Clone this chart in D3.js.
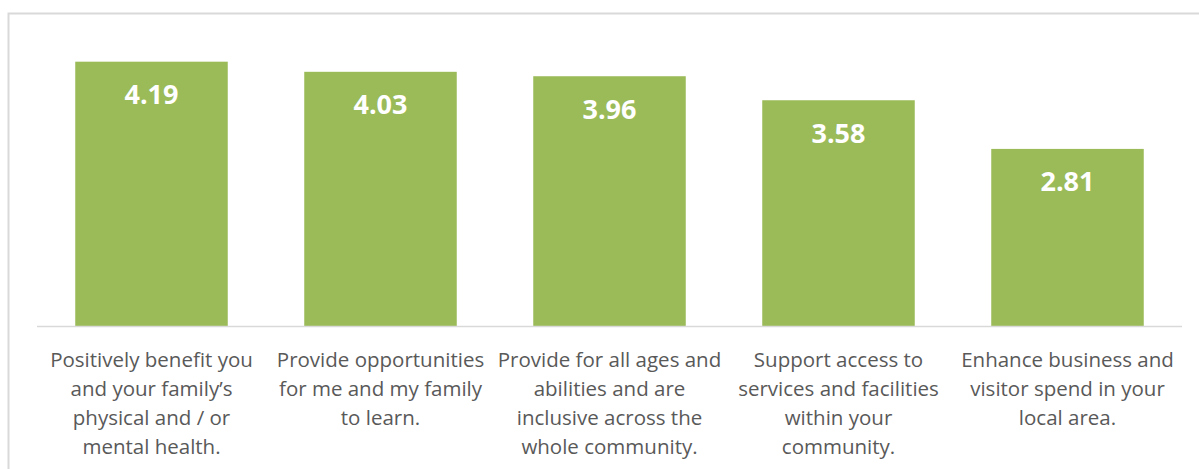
<!DOCTYPE html>
<html>
<head>
<meta charset="utf-8">
<script src="https://cdn.jsdelivr.net/npm/d3@7"></script>
<style>
  body { margin: 0; background: #fff; }
  svg { display: block; }
</style>
</head>
<body>
<div id="chart"></div>
<script>
// chart values
var categories = [
  "Positively benefit you\nand your family\u2019s\nphysical and / or\nmental health.",
  "Provide opportunities\nfor me and my family\nto learn.",
  "Provide for all ages and\nabilities and are\ninclusive across the\nwhole community.",
  "Support access to\nservices and facilities\nwithin your\ncommunity.",
  "Enhance business and\nvisitor spend in your\nlocal area."
];
var scores = [4.19, 4.03, 3.96, 3.58, 2.81];

var width = 1199;
var height = 469;
var barColor = '#9bbb59';
var gridColor = '#d9d9d9';
var textColor = '#595959';

var svg = d3.select("#chart")
  .append("svg")
  .attr("width", width)
  .attr("height", height);

// chart border (runs off the right and bottom of the picture)
svg.append("rect")
  .attr("x", 8.5)
  .attr("y", 13.5)
  .attr("width", width + 20)
  .attr("height", height + 20)
  .style("fill", "none")
  .style("stroke", gridColor)
  .style("stroke-width", 2);

var x = d3.scaleBand()
  .domain(categories)
  .range([37, 1182])
  .paddingInner(0.334)
  .paddingOuter(0.167);

var y = d3.scaleLinear()
  .domain([0, 5])
  .range([326.5, 10.5]);

// bars
svg.selectAll(".bar")
  .data(scores)
  .enter()
  .append("rect")
  .attr("class", "bar")
  .attr("x", function (d, i) { return x(categories[i]); })
  .attr("y", function (d) { return y(d); })
  .attr("width", x.bandwidth())
  .attr("height", function (d) { return y(0) - y(d); })
  .style("fill", barColor);

// value labels inside the bars
svg.selectAll(".value")
  .data(scores)
  .enter()
  .append("text")
  .attr("class", "value")
  .attr("x", function (d, i) { return x(categories[i]) + x.bandwidth() / 2; })
  .attr("y", function (d) { return y(d) + 42.5; })
  .attr("text-anchor", "middle")
  .style("font-family", "'Open Sans', sans-serif")
  .style("font-weight", "bold")
  .style("font-size", "27px")
  .style("fill", "#fff")
  .text(function (d) { return d3.format(".2f")(d); });

// category axis
var xAxis = d3.axisBottom(x).tickSize(0).tickFormat("");
var axisG = svg.append("g")
  .attr("transform", "translate(0," + y(0) + ")")
  .call(xAxis);
axisG.select(".domain")
  .attr("d", "M37,0H1182")
  .style("stroke", gridColor)
  .style("stroke-width", 1.5);

// wrapped category labels
axisG.selectAll(".tick")
  .append("text")
  .attr("text-anchor", "middle")
  .style("font-family", "'Open Sans', sans-serif")
  .style("font-size", "20.5px")
  .style("fill", textColor)
  .selectAll("tspan")
  .data(function (d) { return d.split("\n"); })
  .enter()
  .append("tspan")
  .attr("x", 0)
  .attr("y", function (d, i) { return 40 + i * 29; })
  .text(function (d) { return d; });
</script>
</body>
</html>
